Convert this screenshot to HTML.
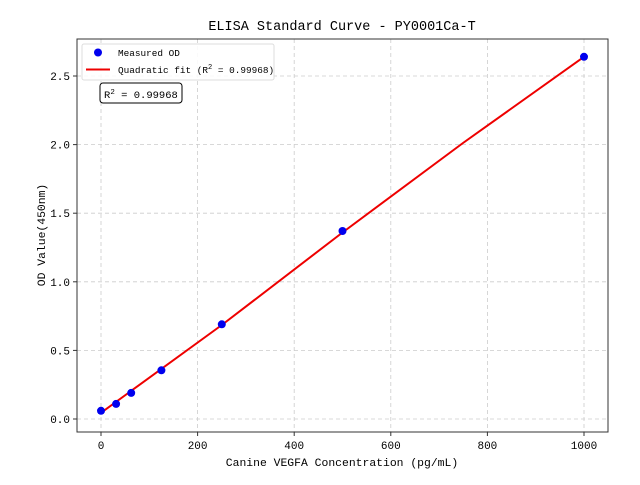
<!DOCTYPE html>
<html><head><style>body{margin:0;background:#fff}svg{font-family:"Liberation Mono","WenQuanYi Zen Hei",monospace}</style></head><body>
<svg width="640" height="480" xmlns="http://www.w3.org/2000/svg">
<rect width="640" height="480" fill="#fff"/>
<g stroke="#ccc" stroke-dasharray="4,3" stroke-width="0.8">
<line x1="101" y1="39" x2="101" y2="432"/><line x1="197.6" y1="39" x2="197.6" y2="432"/><line x1="294.2" y1="39" x2="294.2" y2="432"/><line x1="390.8" y1="39" x2="390.8" y2="432"/><line x1="487.4" y1="39" x2="487.4" y2="432"/><line x1="584" y1="39" x2="584" y2="432"/>
<line x1="77" y1="419" x2="608" y2="419"/><line x1="77" y1="350.4" x2="608" y2="350.4"/><line x1="77" y1="281.8" x2="608" y2="281.8"/><line x1="77" y1="213.2" x2="608" y2="213.2"/><line x1="77" y1="144.6" x2="608" y2="144.6"/><line x1="77" y1="76" x2="608" y2="76"/>
</g>
<rect x="77" y="39" width="531" height="393" fill="none" stroke="#333" stroke-width="1"/>
<g stroke="#333"><line x1="101" y1="432" x2="101" y2="436"/><line x1="197.6" y1="432" x2="197.6" y2="436"/><line x1="294.2" y1="432" x2="294.2" y2="436"/><line x1="390.8" y1="432" x2="390.8" y2="436"/><line x1="487.4" y1="432" x2="487.4" y2="436"/><line x1="584" y1="432" x2="584" y2="436"/>
<line x1="73" y1="419" x2="77" y2="419"/><line x1="73" y1="350.4" x2="77" y2="350.4"/><line x1="73" y1="281.8" x2="77" y2="281.8"/><line x1="73" y1="213.2" x2="77" y2="213.2"/><line x1="73" y1="144.6" x2="77" y2="144.6"/><line x1="73" y1="76" x2="77" y2="76"/></g>
<g font-size="11" fill="#000" text-anchor="middle"><text x="101" y="449">0</text><text x="197.6" y="449">200</text><text x="294.2" y="449">400</text><text x="390.8" y="449">600</text><text x="487.4" y="449">800</text><text x="584" y="449">1000</text></g>
<g font-size="11" fill="#000" text-anchor="end"><text x="70" y="423">0.0</text><text x="70" y="354.4">0.5</text><text x="70" y="285.8">1.0</text><text x="70" y="217.2">1.5</text><text x="70" y="148.6">2.0</text><text x="70" y="80">2.5</text></g>
<text x="342" y="466" font-size="11.4" text-anchor="middle">Canine VEGFA Concentration (pg/mL)</text>
<text transform="translate(45,235) rotate(-90)" font-size="11.4" text-anchor="middle">OD Value(450nm)</text>
<text x="342" y="30" font-size="13.5" text-anchor="middle">ELISA Standard Curve - PY0001Ca-T</text>
<polyline fill="none" stroke="#e00" stroke-width="2" points="101,412.8 221.8,325 342.5,232.5 463,143 584,56.8"/>
<g fill="#0000ee"><circle cx="101" cy="410.8" r="4"/><circle cx="116.1" cy="403.9" r="4"/><circle cx="131.2" cy="392.9" r="4"/><circle cx="161.4" cy="370.3" r="4"/><circle cx="221.8" cy="324.3" r="4"/><circle cx="342.5" cy="231" r="4"/><circle cx="584" cy="56.8" r="4"/></g>
<rect x="82" y="44" width="192" height="36" rx="2" fill="#fff" fill-opacity="0.85" stroke="#ddd"/>
<circle cx="98" cy="52.5" r="4" fill="#0000ee"/>
<line x1="86" y1="69.5" x2="110" y2="69.5" stroke="#e00" stroke-width="2"/>
<text x="118" y="56" font-size="9.4">Measured OD</text>
<text x="118" y="73" font-size="9.4">Quadratic fit (R<tspan dy="-4" font-size="7">2</tspan><tspan dy="4"> = 0.99968)</tspan></text>
<rect x="100" y="83" width="82" height="20" rx="3" fill="#fff" stroke="#000"/>
<text x="104" y="98" font-size="10.5">R<tspan dy="-4" font-size="7.5">2</tspan><tspan dy="4"> = 0.99968</tspan></text>
</svg>
</body></html>
